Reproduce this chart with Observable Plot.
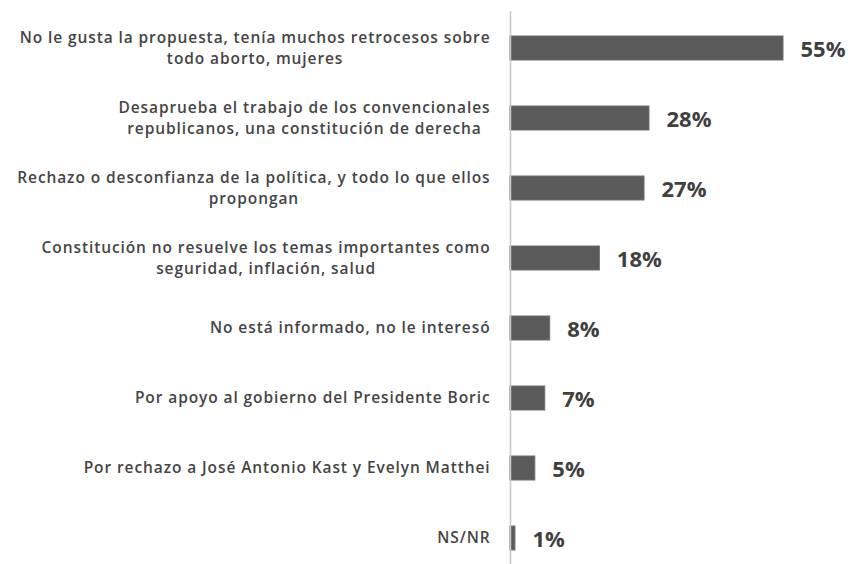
<!DOCTYPE html>
<html>
<head>
<meta charset="utf-8">
<script src="https://cdn.jsdelivr.net/npm/d3@7"></script>
<script src="https://cdn.jsdelivr.net/npm/@observablehq/plot@0.6"></script>
<style>
  html, body { margin: 0; padding: 0; background: #fff; }
  #chart svg { display: block; }
  #chart svg .lbl text { letter-spacing: 0.9px; }
</style>
</head>
<body>
<div id="chart"></div>
<script>
const categories = [
  "No le gusta la propuesta, tenía muchos retrocesos sobre\ntodo aborto, mujeres",
  "Desaprueba el trabajo de los convencionales\nrepublicanos, una constitución de derecha",
  "Rechazo o desconfianza de la política, y todo lo que ellos\npropongan",
  "Constitución no resuelve los temas importantes como\nseguridad, inflación, salud",
  "No está informado, no le interesó",
  "Por apoyo al gobierno del Presidente Boric",
  "Por rechazo a José Antonio Kast y Evelyn Matthei",
  "NS/NR"
];
const values = [55, 28, 27, 18, 8, 7, 5, 1];
const valueLabels = ["55%", "28%", "27%", "18%", "8%", "7%", "5%", "1%"];

const labelSize = 15.5;
const letterSp = 0.9;
const canvas = document.createElement("canvas");
const ctx = canvas.getContext("2d");
ctx.font = `600 ${labelSize}px 'Open Sans'`;

const rows = categories.map((c, i) => {
  const w = d3.max(c.split("\n"), s => ctx.measureText(s).width + letterSp * s.length);
  return {cat: c, value: values[i], label: valueLabels[i], w};
});

const labelMarks = rows.map(r => Plot.text([r], {
  x: () => 0,
  y: "cat",
  text: "cat",
  textAnchor: "middle",
  lineHeight: 1.35,
  dx: -20 - r.w / 2,
  dy: -2,
  fontFamily: "Open Sans",
  fontWeight: 600,
  fontSize: labelSize,
  fill: "#454545",
  className: "lbl"
}));

const chart = Plot.plot({
  width: 853,
  height: 564,
  marginLeft: 510,
  marginRight: 70,
  marginTop: 11,
  marginBottom: 0,
  x: {domain: [0, 55], axis: null},
  y: {domain: categories, range: [11, 574], padding: 0, axis: null},
  marks: [
    Plot.barX(rows, {x: "value", y: "cat", fill: "#5a5a5a", stroke: "#6e6e6e", strokeWidth: 1, insetTop: 23, insetBottom: 23}),
    Plot.ruleX([0], {stroke: "#c8c8c8", strokeWidth: 1.5}),
    Plot.text(rows, {x: "value", y: "cat", text: "label", textAnchor: "start", dx: 17, dy: 1,
      fontFamily: "Open Sans", fontWeight: "bold", fontSize: 22, fill: "#404040"}),
    ...labelMarks
  ]
});
document.getElementById("chart").appendChild(chart);
</script>
</body>
</html>
